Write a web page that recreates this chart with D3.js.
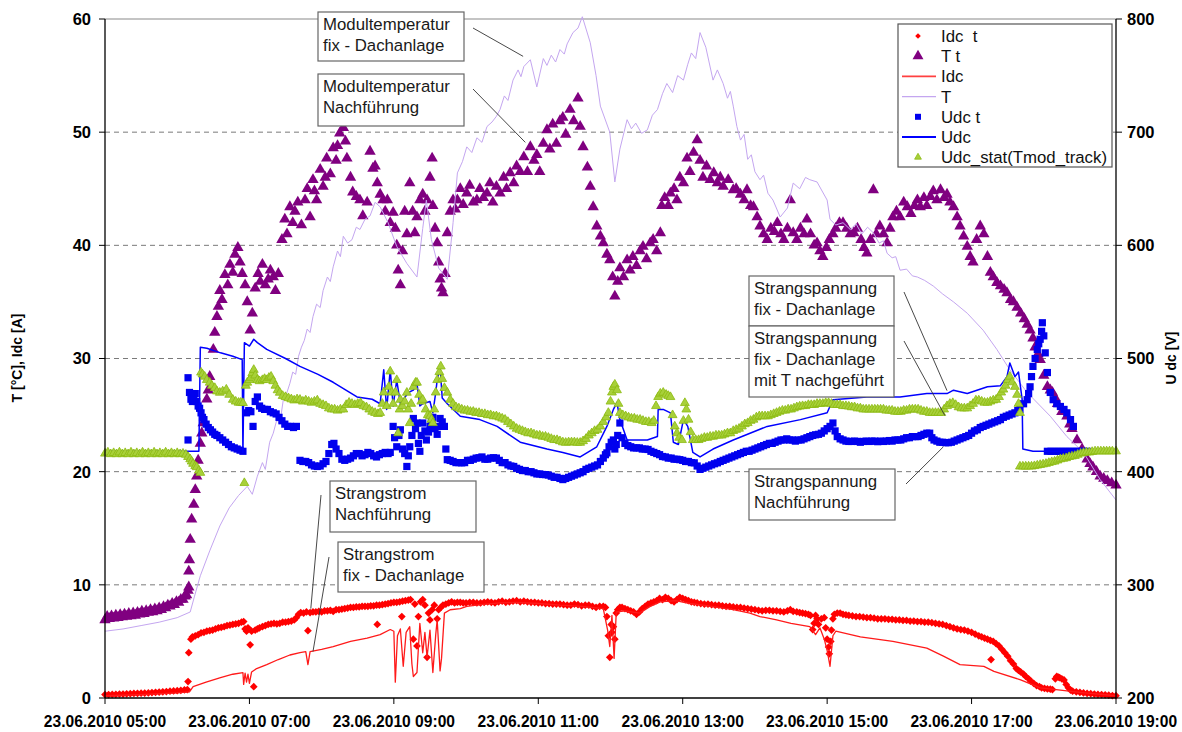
<!DOCTYPE html>
<html><head><meta charset="utf-8">
<script src="https://cdn.jsdelivr.net/npm/d3@7"></script>
<style>body{margin:0;background:#fff}svg{display:block;font-family:"Liberation Sans",Arial,sans-serif}</style>
</head><body><svg id="c" width="1182" height="732"></svg>
<script>
// ---------- tick labels / categories ----------
const xTickHours = [5, 7, 9, 11, 13, 15, 17, 19];
const xTickLabels = ["23.06.2010 05:00","23.06.2010 07:00","23.06.2010 09:00","23.06.2010 11:00","23.06.2010 13:00","23.06.2010 15:00","23.06.2010 17:00","23.06.2010 19:00"];
const leftTicks = [0, 10, 20, 30, 40, 50, 60];
const rightTicks = [200, 300, 400, 500, 600, 700, 800];
const leftTitle = "T [°C], Idc [A]";
const rightTitle = "U dc [V]";
const legendNames = ["Idc\u00a0 t", "T t", "Idc", "T", "Udc t", "Udc", "Udc_stat(Tmod_track)"];

// ---------- series: [hour, value] ----------
const idcPoints = [[5.00,.30],[5.05,.30],[5.10,.32],[5.15,.33],[5.20,.35],[5.25,.35],[5.30,.37],[5.35,.38],[5.40,.40],[5.45,.41],[5.50,.42],[5.55,.44],[5.60,.45],[5.65,.48],[5.70,.50],[5.75,.52],[5.80,.55],[5.85,.57],[5.90,.60],[5.95,.62],[6.00,.65],[6.05,.68],[6.10,.72],[6.14,.75],[6.15,1.45],[6.16,4.0],[6.19,5.2],[6.21,5.4],[6.25,5.5],[6.29,5.6],[6.33,5.75],[6.37,5.8],[6.41,5.9],[6.45,5.95],[6.49,6.0],[6.53,6.1],[6.57,6.2],[6.61,6.25],[6.65,6.3],[6.69,6.4],[6.73,6.45],[6.77,6.5],[6.81,6.55],[6.85,6.6],[6.89,6.7],[6.92,6.75],[6.94,6.1],[6.96,5.9],[6.98,6.2],[7.01,4.7],[7.03,5.9],[7.06,1.0],[7.08,6.0],[7.11,6.1],[7.14,6.2],[7.18,6.3],[7.22,6.4],[7.26,6.5],[7.30,6.55],[7.34,6.6],[7.38,6.55],[7.42,6.6],[7.46,6.7],[7.50,6.7],[7.54,6.75],[7.58,6.8],[7.62,6.9],[7.65,7.1],[7.68,7.4],[7.71,7.55],[7.75,7.5],[7.79,7.6],[7.81,5.95],[7.84,7.55],[7.88,7.6],[7.92,7.6],[7.96,7.65],[8.00,7.6],[8.04,7.7],[8.08,7.7],[8.12,7.75],[8.16,7.65],[8.20,7.8],[8.24,7.8],[8.28,7.85],[8.32,7.9],[8.36,7.95],[8.40,8.0],[8.44,8.0],[8.48,8.05],[8.52,8.05],[8.56,8.1],[8.60,8.1],[8.64,8.1],[8.68,8.15],[8.72,8.15],[8.76,8.2],[8.77,6.5],[8.80,8.2],[8.84,8.25],[8.88,8.3],[8.92,8.35],[8.96,8.4],[9.00,8.45],[9.04,8.45],[9.08,8.5],[9.11,7.2],[9.12,8.55],[9.16,8.6],[9.20,8.65],[9.23,8.7],[9.27,5.2],[9.29,8.3],[9.32,4.6],[9.34,7.2],[9.37,8.5],[9.40,8.7],[9.43,8.2],[9.46,3.6],[9.48,7.5],[9.50,6.9],[9.53,7.8],[9.56,8.2],[9.60,7.0],[9.62,7.8],[9.65,8.0],[9.68,8.2],[9.72,8.3],[9.76,8.4],[9.80,8.5],[9.84,8.4],[9.88,8.45],[9.92,8.45],[9.96,8.4],[10.00,8.4],[10.05,8.45],[10.10,8.45],[10.15,8.4],[10.20,8.4],[10.25,8.45],[10.30,8.5],[10.35,8.45],[10.40,8.4],[10.45,8.5],[10.50,8.55],[10.55,8.45],[10.60,8.5],[10.65,8.55],[10.70,8.6],[10.75,8.5],[10.80,8.55],[10.85,8.5],[10.90,8.45],[10.95,8.45],[11.00,8.4],[11.05,8.4],[11.10,8.35],[11.15,8.35],[11.20,8.3],[11.25,8.3],[11.30,8.3],[11.35,8.25],[11.40,8.2],[11.45,8.2],[11.50,8.3],[11.55,8.25],[11.60,8.15],[11.65,8.2],[11.70,8.2],[11.75,8.1],[11.80,8.0],[11.85,8.1],[11.90,8.1],[11.93,8.0],[11.95,7.2],[11.97,5.5],[11.99,3.6],[12.01,6.5],[12.02,5.8],[12.04,6.3],[12.06,5.2],[12.08,7.5],[12.10,7.8],[12.13,8.0],[12.16,8.0],[12.20,7.9],[12.24,7.8],[12.28,7.7],[12.32,7.6],[12.36,7.4],[12.40,7.6],[12.44,7.9],[12.48,8.1],[12.52,8.3],[12.56,8.4],[12.60,8.5],[12.64,8.6],[12.68,8.8],[12.72,8.7],[12.76,8.9],[12.80,8.8],[12.84,8.6],[12.88,8.5],[12.92,8.7],[12.96,8.9],[13.00,8.8],[13.04,8.7],[13.08,8.6],[13.12,8.5],[13.16,8.45],[13.20,8.4],[13.25,8.35],[13.30,8.3],[13.35,8.3],[13.40,8.25],[13.45,8.2],[13.50,8.2],[13.55,8.15],[13.60,8.1],[13.65,8.1],[13.70,8.05],[13.75,8.0],[13.80,8.0],[13.85,7.95],[13.90,7.9],[13.95,7.85],[14.00,7.8],[14.05,7.75],[14.10,7.7],[14.15,7.75],[14.20,7.75],[14.25,7.7],[14.30,7.7],[14.35,7.65],[14.40,7.6],[14.45,7.7],[14.49,7.8],[14.53,7.65],[14.58,7.6],[14.62,7.55],[14.66,7.5],[14.70,7.45],[14.74,7.4],[14.77,7.3],[14.80,6.05],[14.82,6.6],[14.84,7.3],[14.86,7.0],[14.88,6.5],[14.92,7.0],[14.96,7.1],[14.98,6.2],[15.00,5.2],[15.02,4.5],[15.03,3.9],[15.05,5.0],[15.06,6.0],[15.08,7.0],[15.10,7.4],[15.14,7.5],[15.18,7.5],[15.22,7.4],[15.26,7.35],[15.30,7.3],[15.35,7.25],[15.40,7.2],[15.45,7.2],[15.50,7.15],[15.55,7.1],[15.60,7.1],[15.65,7.05],[15.70,7.0],[15.75,7.0],[15.80,7.0],[15.85,6.95],[15.90,6.95],[15.95,6.9],[16.00,6.9],[16.05,6.85],[16.10,6.85],[16.15,6.8],[16.20,6.8],[16.25,6.75],[16.30,6.75],[16.35,6.7],[16.40,6.7],[16.45,6.65],[16.50,6.6],[16.55,6.55],[16.60,6.5],[16.65,6.4],[16.70,6.3],[16.75,6.2],[16.80,6.1],[16.85,6.05],[16.90,6.0],[16.95,5.9],[17.00,5.8],[17.05,5.65],[17.10,5.5],[17.14,5.4],[17.18,5.3],[17.22,5.2],[17.26,5.1],[17.27,3.4],[17.30,5.0],[17.34,4.8],[17.38,4.6],[17.42,4.3],[17.46,4.0],[17.50,3.7],[17.54,3.3],[17.58,3.0],[17.62,2.6],[17.65,2.45],[17.68,2.3],[17.72,2.1],[17.75,1.9],[17.79,1.7],[17.82,1.5],[17.86,1.3],[17.90,1.1],[17.94,1.0],[17.97,0.9],[18.01,0.85],[18.05,0.8],[18.09,0.78],[18.12,0.75],[18.16,1.7],[18.18,1.9],[18.20,1.85],[18.22,1.8],[18.25,1.7],[18.28,1.6],[18.31,1.2],[18.34,0.9],[18.37,0.7],[18.40,0.6],[18.45,0.55],[18.50,0.5],[18.55,0.45],[18.60,0.4],[18.65,0.38],[18.70,0.35],[18.75,0.32],[18.80,0.3],[18.85,0.28],[18.90,0.25],[18.95,0.22],[19.00,0.2]];

const tempPoints = [[5.00,6.9],[5.03,7.2],[5.06,7.0],[5.09,7.25],[5.12,7.05],[5.15,7.3],[5.18,7.1],[5.21,7.35],[5.24,7.15],[5.27,7.4],[5.30,7.2],[5.33,7.45],[5.36,7.25],[5.39,7.5],[5.42,7.3],[5.45,7.55],[5.48,7.4],[5.51,7.65],[5.54,7.45],[5.57,7.7],[5.60,7.55],[5.63,7.8],[5.66,7.6],[5.69,7.85],[5.72,7.7],[5.75,7.95],[5.78,7.8],[5.81,8.05],[5.84,7.95],[5.87,8.2],[5.90,8.1],[5.93,8.35],[5.96,8.25],[5.99,8.5],[6.02,8.45],[6.05,8.7],[6.08,8.7],[6.11,9.0],[6.13,9.1],[6.15,9.5],[6.16,9.8],[6.16,11.2],[6.17,12.2],[6.18,14.0],[6.20,15.8],[6.23,17.1],[6.25,18.4],[6.27,19.6],[6.29,21.0],[6.32,22.5],[6.34,23.4],[6.36,24.3],[6.41,26.4],[6.43,27.2],[6.45,28.4],[6.50,30.8],[6.52,32.3],[6.55,33.7],[6.57,34.6],[6.59,36.0],[6.62,35.2],[6.66,37.4],[6.70,36.5],[6.73,38.3],[6.77,37.6],[6.80,39.2],[6.84,39.8],[6.87,38.5],[6.90,37.5],[6.94,36.5],[6.97,35.0],[7.01,32.5],[7.04,34.0],[7.08,36.2],[7.12,37.5],[7.15,36.8],[7.18,38.3],[7.22,36.5],[7.26,37.0],[7.29,37.8],[7.33,37.2],[7.36,36.0],[7.40,37.5],[7.45,40.5],[7.49,42.3],[7.52,41.0],[7.56,43.4],[7.60,42.0],[7.63,43.0],[7.67,43.8],[7.72,41.8],[7.77,44.0],[7.80,45.0],[7.84,42.5],[7.88,45.8],[7.90,44.8],[7.93,44.0],[7.98,46.7],[8.02,45.2],[8.05,46.0],[8.07,47.7],[8.12,46.3],[8.16,48.6],[8.20,47.5],[8.22,48.8],[8.25,49.9],[8.30,50.4],[8.33,49.2],[8.35,47.7],[8.40,46.0],[8.43,44.7],[8.48,44.3],[8.53,44.0],[8.57,42.6],[8.63,43.8],[8.67,48.3],[8.71,46.8],[8.74,47.0],[8.77,45.5],[8.81,44.5],[8.85,44.0],[8.88,43.0],[8.91,44.0],[8.95,42.0],[8.99,42.9],[9.02,41.5],[9.04,40.0],[9.06,37.8],[9.09,36.5],[9.12,39.5],[9.15,43.0],[9.18,41.0],[9.22,45.5],[9.26,43.0],[9.29,41.1],[9.32,42.5],[9.36,44.0],[9.40,44.5],[9.43,43.0],[9.46,44.0],[9.50,46.0],[9.53,47.7],[9.54,43.5],[9.57,41.5],[9.60,40.2],[9.62,38.5],[9.64,37.0],[9.66,36.2],[9.68,35.8],[9.71,37.5],[9.74,41.1],[9.78,43.0],[9.82,44.0],[9.85,43.2],[9.88,44.0],[9.92,45.0],[9.96,43.6],[10.01,44.6],[10.05,45.3],[10.10,43.8],[10.15,44.0],[10.19,45.0],[10.24,44.2],[10.29,44.6],[10.33,45.5],[10.37,43.8],[10.42,45.2],[10.47,44.6],[10.52,46.0],[10.56,45.0],[10.61,46.4],[10.66,45.5],[10.70,47.0],[10.75,46.5],[10.80,47.8],[10.85,46.5],[10.89,48.7],[10.94,47.5],[10.98,48.0],[11.02,46.5],[11.07,49.0],[11.12,50.2],[11.16,48.5],[11.20,50.7],[11.25,49.0],[11.30,51.0],[11.34,51.3],[11.38,49.8],[11.44,52.0],[11.49,51.0],[11.55,53.0],[11.58,50.5],[11.62,48.7],[11.68,46.9],[11.72,45.2],[11.76,43.4],[11.81,41.7],[11.86,40.8],[11.90,40.2],[11.95,39.2],[11.99,38.7],[12.03,37.2],[12.06,35.5],[12.10,36.8],[12.13,38.0],[12.18,37.2],[12.23,38.7],[12.27,37.8],[12.31,39.0],[12.36,38.2],[12.41,39.5],[12.45,39.9],[12.50,38.8],[12.55,40.2],[12.59,40.5],[12.64,39.5],[12.69,41.1],[12.71,43.5],[12.75,44.2],[12.80,43.5],[12.83,44.6],[12.88,45.0],[12.92,44.0],[12.96,46.0],[13.01,45.5],[13.06,47.7],[13.10,46.5],[13.15,48.2],[13.20,49.3],[13.24,47.5],[13.28,46.0],[13.33,47.0],[13.38,45.8],[13.43,46.4],[13.48,45.5],[13.52,46.0],[13.56,45.2],[13.63,45.8],[13.70,44.9],[13.74,45.0],[13.80,44.5],[13.85,44.0],[13.89,44.9],[13.94,43.5],[13.98,43.4],[14.03,42.5],[14.07,41.7],[14.12,41.0],[14.17,40.5],[14.22,41.5],[14.27,41.2],[14.31,42.0],[14.36,41.0],[14.40,40.5],[14.45,41.5],[14.49,44.0],[14.53,41.1],[14.58,40.5],[14.63,41.5],[14.68,41.0],[14.72,42.3],[14.77,41.0],[14.82,40.0],[14.86,40.2],[14.90,39.5],[14.94,39.0],[14.99,39.8],[15.03,40.5],[15.08,41.0],[15.12,41.5],[15.17,42.0],[15.22,42.0],[15.27,41.5],[15.32,41.0],[15.37,41.1],[15.42,41.5],[15.47,40.5],[15.51,39.8],[15.55,39.3],[15.60,40.5],[15.64,44.9],[15.68,41.0],[15.73,41.7],[15.78,41.0],[15.83,40.2],[15.87,41.5],[15.91,42.5],[15.96,43.0],[16.01,42.5],[16.06,43.8],[16.11,43.4],[16.16,42.8],[16.21,43.5],[16.25,44.0],[16.29,43.4],[16.34,44.2],[16.38,43.5],[16.43,44.3],[16.47,44.8],[16.52,44.0],[16.57,44.9],[16.62,44.2],[16.66,44.5],[16.70,43.8],[16.75,43.4],[16.80,42.5],[16.84,41.7],[16.89,40.8],[16.94,39.9],[16.98,39.0],[17.02,38.5],[17.07,40.5],[17.12,41.7],[17.17,41.0],[17.22,39.0],[17.26,37.6],[17.30,37.2],[17.35,36.7],[17.40,36.4],[17.45,36.1],[17.49,35.8],[17.54,35.2],[17.58,35.0],[17.63,34.5],[17.68,34.0],[17.73,33.5],[17.77,33.0],[17.81,32.5],[17.85,31.8],[17.88,31.0],[17.92,30.4],[17.95,29.9],[18.00,28.5],[18.05,27.5],[18.09,27.2],[18.12,27.0],[18.16,26.5],[18.19,26.0],[18.25,25.3],[18.32,24.9],[18.36,24.2],[18.39,23.8],[18.46,22.8],[18.53,22.0],[18.60,21.1],[18.64,20.7],[18.68,20.4],[18.73,20.0],[18.78,19.6],[18.83,19.4],[18.88,19.2],[18.94,19.0],[19.00,18.8]];

const idcLine = [[5.00,0.2],[5.50,0.3],[6.00,0.45],[6.17,0.55],[6.22,1.0],[6.40,1.4],[6.60,1.8],[6.77,2.1],[6.91,2.25],[6.92,1.2],[6.94,2.2],[6.96,1.4],[6.98,2.1],[7.00,1.3],[7.03,2.3],[7.10,2.6],[7.24,2.95],[7.40,3.4],[7.56,3.8],[7.70,4.0],[7.78,4.1],[7.81,2.95],[7.84,4.1],[8.00,4.3],[8.16,4.55],[8.40,5.0],[8.63,5.3],[8.81,5.6],[8.95,6.05],[9.00,5.9],[9.02,1.4],[9.05,5.5],[9.09,6.1],[9.13,2.8],[9.17,5.8],[9.22,6.3],[9.25,3.0],[9.27,1.9],[9.32,2.25],[9.36,6.6],[9.40,4.0],[9.43,5.8],[9.46,3.6],[9.50,6.0],[9.54,2.25],[9.58,5.6],[9.60,6.9],[9.64,2.4],[9.66,3.5],[9.70,7.5],[9.78,7.8],[9.92,7.9],[10.01,8.1],[10.20,8.25],[10.47,8.4],[10.70,8.45],[11.00,8.35],[11.30,8.2],[11.60,8.1],[11.90,7.9],[11.96,6.0],[11.99,4.55],[12.02,7.3],[12.05,3.5],[12.08,7.6],[12.20,7.7],[12.40,7.5],[12.55,8.1],[12.69,8.5],[12.90,8.6],[13.10,8.35],[13.40,8.1],[13.70,7.8],[13.93,7.5],[14.07,7.2],[14.30,6.9],[14.50,6.6],[14.76,6.3],[14.84,5.6],[14.90,6.2],[14.96,5.2],[15.00,4.2],[15.04,2.8],[15.08,5.5],[15.12,5.9],[15.46,5.4],[15.91,5.0],[16.38,4.4],[16.61,3.7],[16.84,2.95],[17.17,2.8],[17.31,2.35],[17.68,1.6],[17.95,0.9],[18.23,0.7],[18.50,0.5],[19.00,0.2]];

const tempLine = [[5.00,5.9],[5.25,6.1],[5.50,6.4],[5.75,6.7],[6.00,7.1],[6.18,7.6],[6.24,9.0],[6.32,10.8],[6.45,13.0],[6.59,15.2],[6.72,16.8],[6.85,17.9],[6.97,18.7],[7.04,18.0],[7.11,19.6],[7.18,20.8],[7.22,20.2],[7.28,22.6],[7.33,23.4],[7.38,24.6],[7.42,24.2],[7.47,26.4],[7.52,27.0],[7.56,27.8],[7.60,28.8],[7.64,28.6],[7.68,30.2],[7.72,31.0],[7.76,31.6],[7.80,32.6],[7.84,32.3],[7.88,33.7],[7.93,34.8],[7.98,34.5],[8.02,36.0],[8.08,37.2],[8.12,36.8],[8.16,38.1],[8.22,39.5],[8.26,39.0],[8.30,40.8],[8.36,40.2],[8.42,40.5],[8.48,41.6],[8.53,41.4],[8.60,42.3],[8.67,42.6],[8.74,43.8],[8.81,43.4],[8.92,42.0],[9.04,39.9],[9.18,38.4],[9.32,37.2],[9.40,41.5],[9.45,44.0],[9.52,40.5],[9.62,38.0],[9.74,37.0],[9.82,42.0],[9.88,46.4],[9.95,47.4],[10.01,48.7],[10.08,48.2],[10.15,49.5],[10.22,49.1],[10.29,50.5],[10.36,50.9],[10.42,51.4],[10.47,52.0],[10.53,53.2],[10.58,52.8],[10.65,54.6],[10.72,55.5],[10.76,54.9],[10.80,55.8],[10.89,56.4],[10.98,54.0],[11.07,56.5],[11.12,55.9],[11.18,56.8],[11.24,56.2],[11.30,57.3],[11.36,56.9],[11.40,57.8],[11.48,58.8],[11.55,59.2],[11.61,60.2],[11.72,57.9],[11.80,55.0],[11.86,52.3],[11.99,50.0],[12.06,45.6],[12.13,48.5],[12.23,51.1],[12.29,50.3],[12.35,50.8],[12.43,49.9],[12.51,50.2],[12.58,51.5],[12.65,52.0],[12.72,53.4],[12.78,54.3],[12.86,53.5],[12.93,55.0],[13.01,54.6],[13.07,56.0],[13.12,57.0],[13.18,56.5],[13.24,58.8],[13.32,57.5],[13.42,54.6],[13.48,55.5],[13.56,54.3],[13.62,53.0],[13.66,53.6],[13.70,52.3],[13.75,50.5],[13.80,49.3],[13.85,49.8],[13.90,47.6],[13.95,48.0],[14.00,46.5],[14.07,45.8],[14.12,46.2],[14.18,44.6],[14.25,44.0],[14.35,42.5],[14.45,43.3],[14.53,45.5],[14.62,45.0],[14.70,46.0],[14.76,45.8],[14.86,45.6],[15.00,44.0],[15.04,42.3],[15.12,41.8],[15.22,42.0],[15.32,41.4],[15.40,41.9],[15.48,41.0],[15.56,41.6],[15.64,41.1],[15.72,40.2],[15.78,40.4],[15.83,39.3],[15.90,38.9],[15.95,39.0],[16.01,37.8],[16.10,37.9],[16.18,37.3],[16.25,37.2],[16.35,36.9],[16.47,36.4],[16.60,35.7],[16.75,35.0],[16.94,34.0],[17.16,32.5],[17.35,30.8],[17.53,29.0],[17.77,27.0],[18.09,24.9],[18.32,23.1],[18.55,21.7],[18.78,19.3],[19.00,17.5]];

const udcPoints = [[6.15,483],[6.15,428],[6.17,470],[6.19,464],[6.21,462],[6.23,466],[6.25,469],[6.27,462],[6.29,458],[6.31,456],[6.33,452],[6.35,448],[6.37,446],[6.40,442],[6.43,439],[6.46,437],[6.49,435],[6.52,433],[6.55,432],[6.59,430],[6.63,428],[6.67,426],[6.71,424],[6.75,422],[6.79,421],[6.83,420],[6.87,419],[6.91,418],[6.96,452],[6.99,454],[7.02,453],[7.05,440],[7.08,462],[7.11,466],[7.14,458],[7.17,456],[7.21,455],[7.25,455],[7.29,453],[7.33,452],[7.37,451],[7.41,448],[7.45,445],[7.49,442],[7.53,440],[7.57,440],[7.61,439],[7.65,440],[7.70,410],[7.74,409],[7.78,409],[7.82,408],[7.86,406],[7.90,405],[7.94,404.6],[7.98,405],[8.02,407],[8.06,409],[8.10,416],[8.14,424],[8.17,425],[8.20,420],[8.24,416],[8.28,411],[8.32,410],[8.36,411],[8.40,412],[8.44,414],[8.48,416],[8.52,416],[8.56,414],[8.60,415],[8.64,417],[8.68,416],[8.72,414],[8.76,413],[8.80,415],[8.84,416],[8.88,417],[8.92,416],[8.95,417],[8.99,440],[9.01,430],[9.04,422],[9.07,432],[9.09,437],[9.12,420],[9.15,416],[9.18,404.6],[9.20,414],[9.22,422],[9.25,432],[9.27,447],[9.30,438],[9.32,443],[9.34,425],[9.36,418],[9.38,432],[9.40,443],[9.43,436],[9.45,428],[9.48,435],[9.50,440],[9.52,445],[9.54,448],[9.57,438],[9.60,433],[9.62,440],[9.64,447],[9.67,444],[9.70,440],[9.72,420],[9.74,410.6],[9.78,410],[9.82,409],[9.86,408],[9.90,408],[9.94,407.8],[9.98,408],[10.02,410],[10.06,410],[10.10,411],[10.14,412],[10.18,412.3],[10.22,413],[10.26,411],[10.30,411],[10.34,412],[10.38,412.3],[10.42,412],[10.46,410],[10.50,408],[10.54,408],[10.58,406],[10.62,405],[10.66,404.6],[10.70,403],[10.74,402],[10.78,401],[10.82,401],[10.86,400],[10.90,400],[10.94,399],[10.98,398],[11.02,398],[11.06,397.5],[11.10,397.4],[11.14,397],[11.18,396],[11.22,395],[11.26,395],[11.30,394],[11.34,393],[11.38,394],[11.42,395],[11.46,396],[11.50,397],[11.54,398],[11.58,399],[11.62,400],[11.66,402],[11.70,403],[11.74,404],[11.78,405],[11.82,406],[11.86,409],[11.90,412],[11.93,415],[11.95,416.6],[11.98,422],[12.01,426],[12.04,428],[12.06,420],[12.08,424],[12.10,432],[12.13,443],[12.16,430],[12.20,425],[12.24,423],[12.28,422],[12.32,421],[12.36,421],[12.40,421],[12.44,420],[12.48,420],[12.52,419.6],[12.56,418],[12.60,417],[12.64,416],[12.68,415],[12.72,413.4],[12.76,413],[12.80,412],[12.84,412],[12.88,411],[12.92,411],[12.96,410.6],[13.00,410],[13.04,409],[13.08,409],[13.12,408],[13.16,407.8],[13.20,405],[13.24,402],[13.28,403],[13.32,404],[13.36,405],[13.40,406],[13.44,407],[13.48,407.8],[13.52,409],[13.56,410],[13.60,411],[13.64,412],[13.68,413],[13.72,414],[13.76,415],[13.80,416],[13.84,417],[13.88,418],[13.92,418],[13.96,419],[14.00,420],[14.04,421],[14.08,422],[14.12,423],[14.16,424],[14.20,425],[14.24,425],[14.28,426],[14.32,427],[14.36,428],[14.40,428],[14.44,429],[14.48,428],[14.52,428],[14.56,427],[14.60,428],[14.64,428],[14.68,429],[14.72,430],[14.76,431],[14.80,432],[14.84,432.6],[14.88,433],[14.92,434],[14.96,436],[15.00,438],[15.04,440],[15.08,443],[15.11,436],[15.14,431],[15.18,429],[15.22,428],[15.26,427],[15.30,426.7],[15.34,426.7],[15.38,427],[15.42,426.7],[15.46,426],[15.50,426.7],[15.54,427],[15.58,426.7],[15.62,427],[15.66,427],[15.70,426.5],[15.74,427],[15.78,426.7],[15.82,427],[15.86,427.5],[15.90,427],[15.94,428],[15.98,428],[16.02,428],[16.06,429],[16.10,430],[16.14,430],[16.18,431],[16.22,431],[16.26,431],[16.30,432],[16.34,433],[16.38,434],[16.42,434],[16.45,430],[16.48,428],[16.52,427],[16.56,426],[16.60,426],[16.64,425.6],[16.68,425.6],[16.72,426],[16.76,427],[16.80,428],[16.84,429],[16.88,430],[16.92,431],[16.96,432],[17.00,434],[17.04,436],[17.08,437],[17.12,439],[17.16,440],[17.20,441],[17.24,442],[17.28,443],[17.32,444],[17.36,445],[17.40,446],[17.44,448],[17.48,449],[17.52,450],[17.56,451],[17.60,452],[17.64,454],[17.67,455],[17.72,460],[17.77,463.6],[17.79,469],[17.81,475],[17.83,484],[17.85,493],[17.88,500],[17.91,508],[17.93,513],[17.95,517],[17.97,524],[17.98,531.6],[18.00,520],[18.02,505],[18.05,487.6],[18.09,470],[18.13,463.6],[18.18,460],[18.23,457.6],[18.28,455],[18.32,452],[18.37,446],[18.41,440],[18.05,418],[18.10,418],[18.15,418],[18.20,418],[18.25,418],[18.30,418],[18.35,418],[18.40,418],[18.45,418],[18.50,418],[18.55,418],[18.60,418]];

const udcLine = [[5.00,418],[6.30,418],[6.32,510],[6.41,509],[6.60,505],[6.77,502],[6.90,499],[6.91,417],[6.93,514],[7.00,511],[7.06,517],[7.11,514],[7.24,508],[7.50,500],[7.70,493],[7.95,486],[8.16,479],[8.49,466],[8.70,464],[8.81,460],[8.86,490],[8.90,455],[8.95,490],[8.99,458],[9.04,481],[9.09,460],[9.20,470],[9.27,472],[9.32,478],[9.36,458],[9.40,460],[9.50,462],[9.54,452],[9.58,470],[9.60,481],[9.64,493],[9.67,465],[9.74,460],[9.92,449],[10.19,446],[10.43,440],[10.75,426],[11.12,420],[11.34,417],[11.58,413],[11.81,422],[11.95,440],[12.04,455],[12.09,461],[12.13,446],[12.23,428],[12.51,428],[12.65,431],[12.66,455],[12.73,455],[12.83,452],[12.87,426],[12.94,424],[13.01,446],[13.07,440],[13.14,417],[13.24,413],[13.42,420],[13.70,428],[14.17,440],[14.63,446],[15.00,452],[15.08,463.6],[15.55,466],[16.01,466],[16.38,469],[16.66,469],[16.75,472],[16.94,469],[17.22,475],[17.40,476],[17.49,484],[17.53,496],[17.60,484],[17.65,488],[17.70,464],[17.71,420],[17.85,418],[19.00,418]];

const udcStat = [[5.00,416],[5.04,417],[5.08,415.5],[5.12,416.5],[5.16,415.5],[5.20,417],[5.24,415.5],[5.28,416.5],[5.32,415.5],[5.36,417],[5.40,415.5],[5.44,416.5],[5.48,415.5],[5.52,417],[5.56,415.5],[5.60,416.5],[5.64,415.5],[5.68,417],[5.72,415.5],[5.76,416.5],[5.80,415.5],[5.84,417],[5.88,415.5],[5.92,416.5],[5.96,415.5],[6.00,416.5],[6.04,415.5],[6.08,416],[6.12,415],[6.15,413],[6.18,411],[6.20,409],[6.22,407],[6.25,405],[6.27,404],[6.30,401],[6.32,399],[6.33,487.6],[6.35,486],[6.38,484],[6.41,481],[6.45,478.7],[6.48,476],[6.52,474],[6.55,471],[6.59,469.8],[6.63,471],[6.68,472.6],[6.72,468],[6.77,463.6],[6.81,462],[6.85,461],[6.88,461],[6.91,460.7],[6.93,390],[6.95,476],[6.97,478.7],[7.00,481],[7.02,483],[7.04,487],[7.06,490],[7.08,485],[7.11,481],[7.14,480],[7.18,481],[7.21,482],[7.24,481],[7.27,483],[7.30,484],[7.33,480],[7.36,476],[7.39,472],[7.42,469.8],[7.46,467],[7.50,466],[7.54,465],[7.58,464],[7.62,463],[7.66,464],[7.70,463.6],[7.74,462],[7.78,463],[7.82,462],[7.86,461],[7.90,462],[7.94,463],[7.98,460],[8.02,459],[8.06,458],[8.10,456],[8.14,455],[8.18,455],[8.22,454],[8.26,455],[8.30,455],[8.34,459],[8.38,461],[8.42,460],[8.46,459],[8.50,460],[8.54,460.7],[8.58,458],[8.62,457],[8.66,455],[8.70,453],[8.74,452],[8.78,451],[8.81,452],[8.84,460],[8.86,470],[8.90,458],[8.93,475],[8.95,488.6],[8.97,470],[8.99,460],[9.02,470],[9.04,481],[9.06,434],[9.08,455],[9.09,463.6],[9.12,458],[9.15,462],[9.18,469.8],[9.20,455],[9.22,443],[9.24,460],[9.27,475],[9.30,478.7],[9.32,478.7],[9.35,468],[9.38,462],[9.40,463.6],[9.44,455],[9.47,450],[9.50,449],[9.52,446],[9.54,443],[9.56,455],[9.58,470],[9.60,481],[9.63,488],[9.65,493],[9.67,482],[9.70,474],[9.74,469.8],[9.78,463.6],[9.82,460],[9.86,457],[9.90,456],[9.94,455],[9.98,454],[10.02,454],[10.06,453],[10.10,453],[10.14,452],[10.18,452],[10.22,451],[10.26,451],[10.30,450],[10.34,450],[10.38,449],[10.42,449],[10.46,448],[10.50,447],[10.54,446],[10.58,444],[10.62,442],[10.66,440],[10.70,438],[10.74,437],[10.78,436],[10.82,435],[10.86,434],[10.90,434],[10.94,433],[10.98,432],[11.02,432],[11.06,431],[11.10,431],[11.14,430],[11.18,429],[11.22,428],[11.26,428],[11.30,427],[11.34,426],[11.38,425.6],[11.42,426],[11.46,426],[11.50,426],[11.54,425.6],[11.58,425.6],[11.62,427],[11.66,429],[11.70,432],[11.74,434],[11.78,436],[11.82,437],[11.86,440],[11.90,444],[11.94,448],[11.97,452],[12.00,462],[12.02,470],[12.04,475],[12.06,477],[12.09,472],[12.11,460],[12.13,452],[12.17,450],[12.21,449],[12.25,448],[12.29,447],[12.33,447],[12.37,446],[12.41,446],[12.45,445],[12.49,444],[12.53,444],[12.57,443],[12.60,445],[12.63,458],[12.66,466],[12.69,469],[12.73,469.8],[12.77,468],[12.80,467],[12.83,466],[12.86,450],[12.89,440],[12.92,434],[12.95,430],[12.99,428],[13.01,445],[13.03,460.7],[13.05,455],[13.08,446],[13.11,435],[13.14,428],[13.18,428],[13.22,428],[13.26,429],[13.30,430],[13.34,430],[13.38,431],[13.42,431],[13.46,432],[13.50,432],[13.54,432],[13.58,433],[13.62,434],[13.66,434],[13.70,436],[13.74,437],[13.78,438],[13.82,440],[13.86,442],[13.90,443],[13.94,445],[13.98,446],[14.02,448],[14.06,449],[14.10,449],[14.14,449],[14.18,449],[14.22,450],[14.26,451],[14.30,452],[14.34,453],[14.38,454],[14.42,454],[14.46,455],[14.50,455],[14.54,456],[14.58,457],[14.62,457.6],[14.66,458],[14.70,458],[14.74,459],[14.78,459],[14.82,459],[14.86,460],[14.90,460],[14.94,460],[14.98,460.7],[15.02,460.7],[15.06,460],[15.10,459],[15.14,459],[15.18,459],[15.22,458],[15.26,458],[15.30,457.6],[15.34,457],[15.38,457],[15.42,456],[15.46,456],[15.50,455],[15.54,455],[15.58,455],[15.62,455],[15.66,455],[15.70,455],[15.74,455],[15.78,455],[15.82,454],[15.86,454],[15.90,454],[15.94,453],[15.98,453],[16.02,453],[16.06,454],[16.10,454],[16.14,455],[16.18,455],[16.22,455],[16.26,455],[16.30,454],[16.34,453],[16.38,453],[16.42,452],[16.46,452],[16.50,452],[16.54,452],[16.58,452],[16.62,455],[16.66,458],[16.70,460],[16.74,460.7],[16.78,459],[16.82,457],[16.86,456],[16.90,456],[16.94,456],[16.98,458],[17.02,460],[17.06,463],[17.10,463],[17.14,462],[17.18,461],[17.22,461],[17.26,462],[17.30,463],[17.34,463.6],[17.38,466],[17.41,470],[17.44,472.6],[17.47,476],[17.50,481],[17.53,484],[17.56,479],[17.60,475],[17.63,468],[17.65,460],[17.67,452],[17.67,404.6],[17.71,404.6],[17.75,404.6],[17.79,404.6],[17.83,404.6],[17.87,405],[17.91,405.5],[17.95,406],[17.99,406.5],[18.03,407],[18.07,407.8],[18.11,408.5],[18.15,409],[18.19,410],[18.23,411],[18.27,411.5],[18.31,412],[18.35,413],[18.39,413.5],[18.43,414],[18.47,415],[18.51,416],[18.55,416.6],[18.59,417],[18.63,417],[18.67,417.5],[18.71,418],[18.75,418],[18.79,418],[18.83,418],[18.87,418],[18.91,418],[18.95,418],[19.00,418]];

// ---------- annotation texts ----------
const annoTexts = [
  ["Modultemperatur", "fix - Dachanlage"],
  ["Modultemperatur", "Nachführung"],
  ["Strangspannung", "fix - Dachanlage"],
  ["Strangspannung", "fix - Dachanlage", "mit T nachgeführt"],
  ["Strangspannung", "Nachführung"],
  ["Strangstrom", "Nachführung"],
  ["Strangstrom", "fix - Dachanlage"]
];
// anchor points of the leader lines (data coordinates)
const annoTargets = [
  {axis: "L", t: 10.79, v: 56.7},
  {axis: "L", t: 10.82, v: 49.1},
  {axis: "R", t: 16.66, v: 471.6},
  {axis: "R", t: 16.63, v: 449.6},
  {axis: "R", t: 16.61, v: 422},
  {axis: "L", t: 7.85, v: 7.9},
  {axis: "L", t: 7.88, v: 4.1}
];

// ---------- layout ----------
const L = {left: 105, right: 1116, top: 19, bottom: 698};
const annoBoxes = [
  {x: 318, y: 12, w: 146, h: 49, lx: 473, ly: 28},
  {x: 318, y: 74, w: 146, h: 52, lx: 473, ly: 89},
  {x: 749, y: 276, w: 145, h: 50, lx: 904, ly: 292},
  {x: 749, y: 326, w: 145, h: 71, lx: 904, ly: 341},
  {x: 749, y: 469, w: 146, h: 51, lx: 906, ly: 484},
  {x: 330, y: 481, w: 146, h: 51, lx: 321, ly: 495},
  {x: 338, y: 542, w: 146, h: 50, lx: 329, ly: 557}
];

const svg = d3.select("#c");
const x = d3.scaleLinear().domain([5, 19]).range([L.left, L.right]);
const yL = d3.scaleLinear().domain([0, 60]).range([L.bottom, L.top]);
const yR = d3.scaleLinear().domain([200, 800]).range([L.bottom, L.top]);

// grid
svg.append("g").selectAll("line").data(leftTicks.filter(d => d > 0 && d < 60)).join("line")
  .attr("x1", L.left).attr("x2", L.right).attr("y1", d => yL(d)).attr("y2", d => yL(d))
  .attr("stroke", "#7a7a7a").attr("stroke-width", 1).attr("stroke-dasharray", "5,4");
svg.append("line").attr("x1", L.left).attr("x2", L.right).attr("y1", yL(60)).attr("y2", yL(60))
  .attr("stroke", "#8a8a8a").attr("stroke-width", 1.2);

// series
function scatter(data, ys, type, size, fill, stroke, rot) {
  const sym = d3.symbol().type(type).size(size)();
  svg.append("g").selectAll("path").data(data).join("path")
    .attr("d", sym)
    .attr("transform", d => `translate(${x(d[0])},${ys(d[1])})` + (rot ? ` rotate(${rot})` : ""))
    .attr("fill", fill).attr("stroke", stroke || "none").attr("stroke-width", stroke ? 0.8 : 0);
}
function line(data, ys, color, w) {
  svg.append("path").datum(data)
    .attr("d", d3.line().x(d => x(d[0])).y(d => ys(d[1])))
    .attr("fill", "none").attr("stroke", color).attr("stroke-width", w).attr("stroke-linejoin", "round");
}
scatter(idcPoints, yL, d3.symbolSquare, 30, "#ff0000", null, 45);
scatter(tempPoints, yL, d3.symbolTriangle, 56, "#800080");
line(idcLine, yL, "#ff1a1a", 1.3);
line(tempLine, yL, "#c4a6f0", 1);
scatter(udcPoints, yR, d3.symbolSquare, 52, "#0000ee");
line(udcLine, yR, "#0000ff", 1.5);
scatter(udcStat, yR, d3.symbolTriangle, 34, "#a8d03a", "#8cba10");

// axes
svg.append("line").attr("x1", L.left).attr("x2", L.left).attr("y1", L.top).attr("y2", L.bottom).attr("stroke", "#000").attr("stroke-width", 1.3);
svg.append("line").attr("x1", L.right).attr("x2", L.right).attr("y1", L.top).attr("y2", L.bottom).attr("stroke", "#000").attr("stroke-width", 1.3);
svg.append("line").attr("x1", L.left).attr("x2", L.right).attr("y1", L.bottom).attr("y2", L.bottom).attr("stroke", "#000").attr("stroke-width", 1.3);

const gl = svg.append("g");
leftTicks.forEach(t => {
  gl.append("line").attr("x1", L.left - 6).attr("x2", L.left).attr("y1", yL(t)).attr("y2", yL(t)).attr("stroke", "#000");
  gl.append("text").attr("x", 91).attr("y", yL(t)).attr("dy", "0.36em").attr("text-anchor", "end")
    .attr("font-size", 16.5).attr("font-weight", "bold").text(t);
});
rightTicks.forEach(t => {
  gl.append("line").attr("x1", L.right).attr("x2", L.right + 6).attr("y1", yR(t)).attr("y2", yR(t)).attr("stroke", "#000");
  gl.append("text").attr("x", 1127).attr("y", yR(t)).attr("dy", "0.36em").attr("text-anchor", "start")
    .attr("font-size", 16.5).attr("font-weight", "bold").text(t);
});
xTickHours.forEach((h, i) => {
  gl.append("line").attr("x1", x(h)).attr("x2", x(h)).attr("y1", L.bottom).attr("y2", L.bottom + 6).attr("stroke", "#000");
  gl.append("text").attr("x", x(h)).attr("y", 727).attr("text-anchor", "middle")
    .attr("font-size", 15.6).attr("font-weight", "bold").text(xTickLabels[i]);
});
svg.append("text").attr("transform", "translate(22,358) rotate(-90)").attr("text-anchor", "middle")
  .attr("font-size", 14).attr("font-weight", "bold").text(leftTitle);
svg.append("text").attr("transform", "translate(1176,358) rotate(-90)").attr("text-anchor", "middle")
  .attr("font-size", 14).attr("font-weight", "bold").text(rightTitle);

// annotations
annoBoxes.forEach((b, i) => {
  const tg = annoTargets[i];
  const ty = tg.axis === "L" ? yL(tg.v) : yR(tg.v);
  svg.append("line").attr("x1", b.lx).attr("y1", b.ly).attr("x2", x(tg.t)).attr("y2", ty)
    .attr("stroke", "#333").attr("stroke-width", 0.9);
  svg.append("rect").attr("x", b.x).attr("y", b.y).attr("width", b.w).attr("height", b.h)
    .attr("fill", "#fff").attr("stroke", "#666").attr("stroke-width", 1.2);
  annoTexts[i].forEach((s, j) => {
    svg.append("text").attr("x", b.x + 5).attr("y", b.y + 18 + j * 21.2)
      .attr("font-size", 16.8).attr("fill", "#1a1a1a").text(s);
  });
});

// legend
const lg = svg.append("g");
lg.append("rect").attr("x", 898).attr("y", 24).attr("width", 214).attr("height", 143)
  .attr("fill", "#fff").attr("stroke", "#555").attr("stroke-width", 1.2);
const legendStyles = [
  {kind: "sym", type: d3.symbolSquare, size: 16, fill: "#ff0000", rot: 45},
  {kind: "sym", type: d3.symbolTriangle, size: 52, fill: "#800080"},
  {kind: "line", color: "#ff4040", w: 1.6},
  {kind: "line", color: "#c4a6f0", w: 1.2},
  {kind: "sym", type: d3.symbolSquare, size: 36, fill: "#0000ee"},
  {kind: "line", color: "#0000ff", w: 1.8},
  {kind: "sym", type: d3.symbolTriangle, size: 20, fill: "#a8d03a", stroke: "#8cba10"}
];
legendNames.forEach((n, i) => {
  const cy = 36 + i * 20.2;
  const st = legendStyles[i];
  if (st.kind === "sym") {
    lg.append("path").attr("d", d3.symbol().type(st.type).size(st.size)())
      .attr("transform", `translate(918,${cy})` + (st.rot ? ` rotate(${st.rot})` : ""))
      .attr("fill", st.fill).attr("stroke", st.stroke || "none").attr("stroke-width", 0.8);
  } else {
    lg.append("line").attr("x1", 902).attr("x2", 936).attr("y1", cy).attr("y2", cy)
      .attr("stroke", st.color).attr("stroke-width", st.w);
  }
  lg.append("text").attr("x", 941).attr("y", cy).attr("dy", "0.36em").attr("font-size", 16.8)
    .attr("fill", "#111").style("white-space", "pre").text(n);
});
</script></body></html>
